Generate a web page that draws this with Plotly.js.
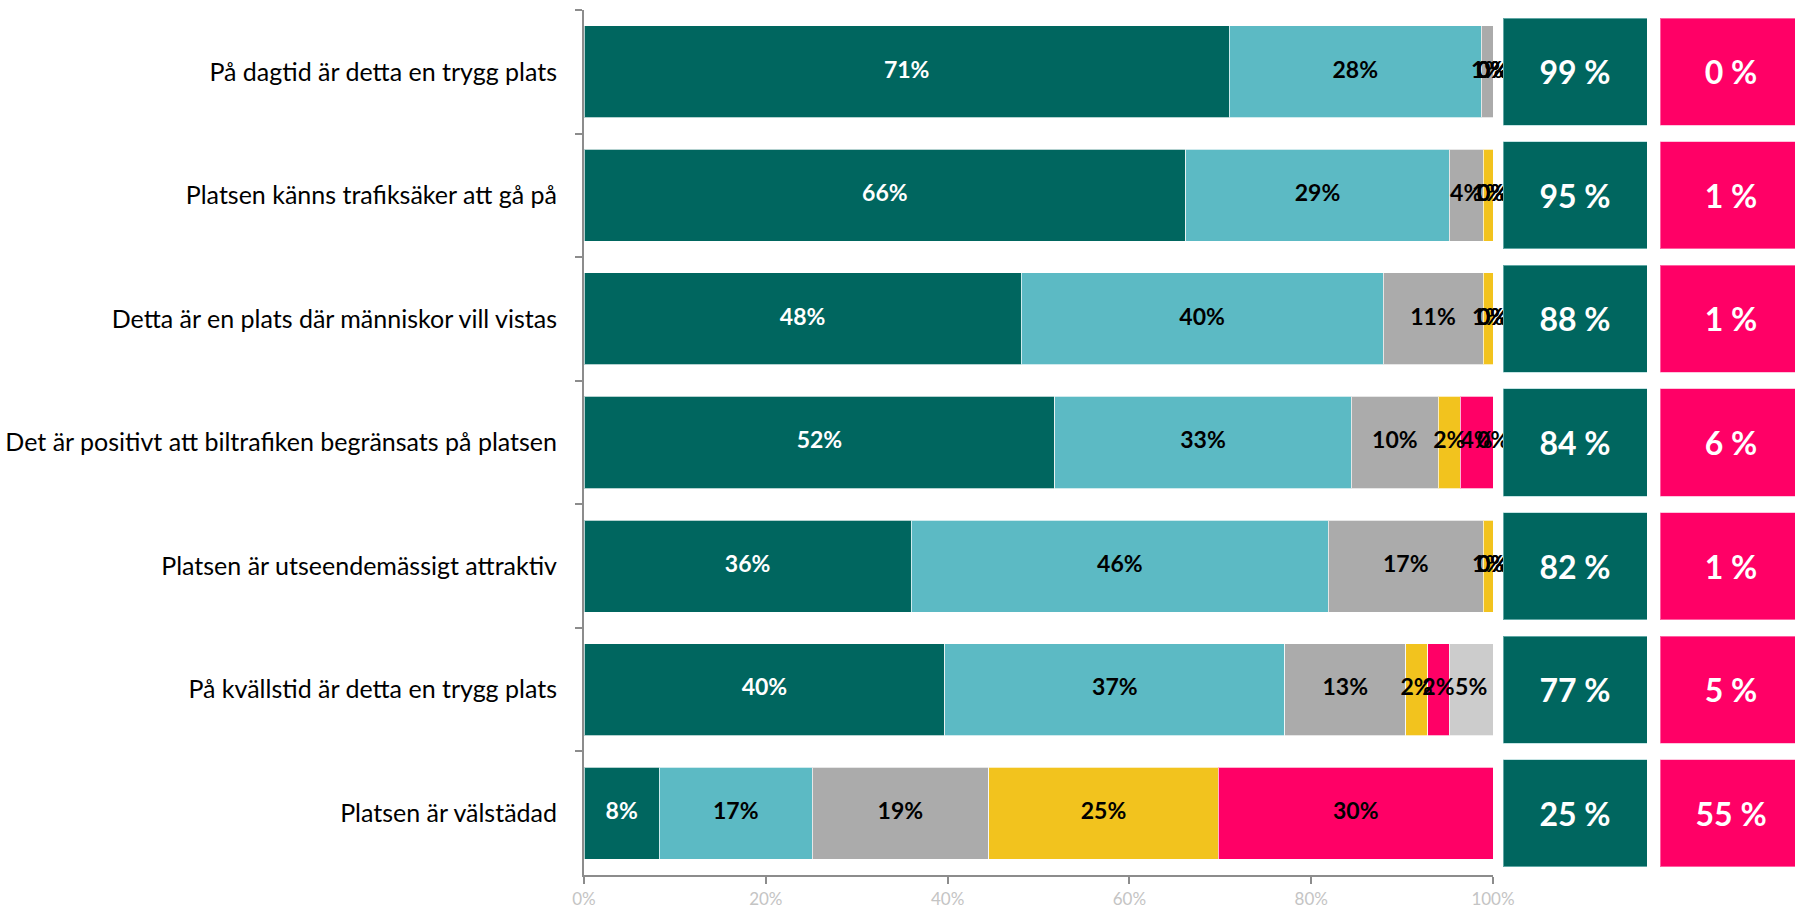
<!DOCTYPE html>
<html>
<head>
<meta charset="utf-8">
<script src="https://cdn.plot.ly/plotly-3.0.1.min.js"></script>
<style>html,body{margin:0;padding:0;background:#fff;}#chart{width:1795px;height:910px;}</style>
</head>
<body>
<div id="chart"></div>
<script>
// Statements (top to bottom)
const categories = [
  "På dagtid är detta en trygg plats",
  "Platsen känns trafiksäker att gå på",
  "Detta är en plats där människor vill vistas",
  "Det är positivt att biltrafiken begränsats på platsen",
  "Platsen är utseendemässigt attraktiv",
  "På kvällstid är detta en trygg plats",
  "Platsen är välstädad"
];
// Shares in percent, per response level
const stronglyAgree = [71.0, 66.2, 48.1, 51.8, 36.0, 39.7, 8.3];
const agree         = [27.7, 29.0, 39.8, 32.6, 45.9, 37.4, 16.8];
const neutral       = [1.3, 3.7, 11.0, 9.6, 17.0, 13.3, 19.4];
const disagree      = [0, 1.1, 1.1, 2.4, 1.1, 2.4, 25.3];
const stronglyDis   = [0, 0, 0, 3.6, 0, 2.4, 30.2];
const dontKnow      = [0, 0, 0, 0, 0, 4.8, null];
// Summary columns
const positiveShare = [99, 95, 88, 84, 82, 77, 25];
const negativeShare = [0, 1, 1, 6, 1, 5, 55];
const xTickVals = [0, 20, 40, 60, 80, 100];
const xTickText = ["0%", "20%", "40%", "60%", "80%", "100%"];

const series = [
  {name: "Instämmer helt", values: stronglyAgree, color: "#00665F", textColor: "#ffffff"},
  {name: "Instämmer delvis", values: agree, color: "#5CBAC4", textColor: "#000000"},
  {name: "Varken eller", values: neutral, color: "#ABABAB", textColor: "#000000"},
  {name: "Instämmer inte", values: disagree, color: "#F2C31E", textColor: "#000000"},
  {name: "Instämmer inte alls", values: stronglyDis, color: "#FF0066", textColor: "#000000"},
  {name: "Vet ej", values: dontKnow, color: "#CCCCCC", textColor: "#000000"}
];

const FONT = "Lato, 'Open Sans', sans-serif";
const traces = [];
const cum = categories.map(() => 0);
const labelTraces = [];
series.forEach(s => {
  traces.push({
    type: "bar", orientation: "h", name: s.name,
    y: categories, x: s.values,
    marker: {color: s.color, line: {color: "rgba(255,255,255,0.7)", width: 1}},
    width: 0.745, hoverinfo: "skip", showlegend: false,
    xaxis: "x", yaxis: "y"
  });
  const mids = [], txt = [];
  s.values.forEach((v, i) => {
    if (v === null || v === undefined) { mids.push(null); txt.push(""); return; }
    mids.push(cum[i] + v / 2);
    txt.push(Math.round(v) + "%");
    cum[i] += v;
  });
  labelTraces.push({
    type: "scatter", mode: "text", x: mids, y: categories, text: txt,
    textposition: "middle center", cliponaxis: false,
    textfont: {family: FONT, size: 23, color: s.textColor, weight: 700},
    hoverinfo: "skip", showlegend: false, xaxis: "x", yaxis: "y"
  });
});

traces.push({
  type: "bar", orientation: "h", y: categories, x: positiveShare.map(() => 1),
  text: positiveShare.map(v => v + " %"), textposition: "inside", insidetextanchor: "middle",
  constraintext: "none", textangle: 0,
  textfont: {family: FONT, size: 32, color: "#ffffff", weight: 700},
  marker: {color: "#00665F", line: {color: "rgba(160,210,210,0.6)", width: 1}},
  width: 0.866, hoverinfo: "skip", showlegend: false, xaxis: "x2", yaxis: "y"
});
traces.push({
  type: "bar", orientation: "h", y: categories, x: negativeShare.map(() => 1),
  text: negativeShare.map(v => v + " %"), textposition: "inside", insidetextanchor: "middle",
  constraintext: "none", textangle: 0,
  textfont: {family: FONT, size: 32, color: "#ffffff", weight: 700},
  marker: {color: "#FF0066", line: {color: "rgba(255,160,200,0.6)", width: 1}},
  width: 0.866, hoverinfo: "skip", showlegend: false, xaxis: "x3", yaxis: "y"
});

const layout = {
  width: 1795, height: 910,
  margin: {l: 0, r: 0, t: 0, b: 0},
  paper_bgcolor: "#ffffff", plot_bgcolor: "rgba(0,0,0,0)",
  barmode: "stack", bargap: 0,
  showlegend: false,
  font: {family: FONT},
  xaxis: {
    domain: [584 / 1795, 1493 / 1795], range: [0, 100],
    tickvals: xTickVals, ticktext: xTickText,
    showgrid: false, zeroline: false,
    showline: true, linecolor: "#8C8C8C", linewidth: 2,
    ticks: "outside", ticklen: 7, tickcolor: "#8C8C8C", tickwidth: 2,
    ticklabelstandoff: 1,
    tickfont: {family: FONT, size: 17, color: "#C4C4C4"},
    automargin: false, fixedrange: true
  },
  xaxis2: {
    domain: [1503 / 1795, 1647 / 1795], range: [0, 1], anchor: "y",
    visible: false, fixedrange: true
  },
  xaxis3: {
    domain: [1660 / 1795, 1], range: [0, 0.95], anchor: "y",
    visible: false, fixedrange: true
  },
  yaxis: {
    domain: [35 / 910, 900 / 910],
    type: "category", categoryorder: "array", categoryarray: categories,
    autorange: "reversed",
    showgrid: false, zeroline: false,
    showline: true, linecolor: "#8C8C8C", linewidth: 2,
    ticks: "outside", ticklen: 7, tickcolor: "#8C8C8C", tickwidth: 2,
    tickson: "boundaries", ticklabelstandoff: 20,
    tickfont: {family: FONT, size: 25, color: "#000000"},
    automargin: false, fixedrange: true
  }
};

Plotly.newPlot("chart", traces.concat(labelTraces), layout, {displayModeBar: false, staticPlot: true});
</script>
</body>
</html>
